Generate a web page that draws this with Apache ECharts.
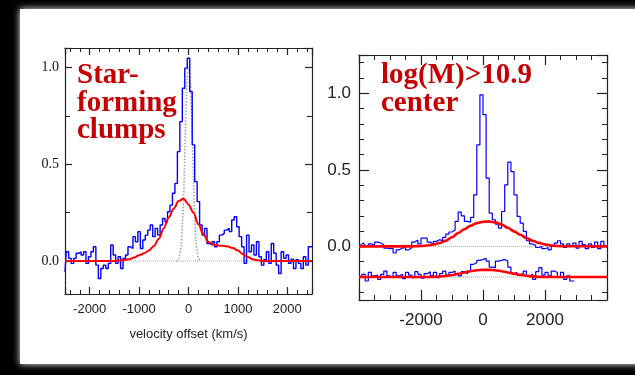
<!DOCTYPE html>
<html>
<head>
<meta charset="utf-8">
<script src="https://cdn.jsdelivr.net/npm/echarts@6/dist/echarts.min.js"></script>
<style>
html,body{margin:0;padding:0;background:#000;}
#c{width:635px;height:375px;}
</style>
</head>
<body>
<div id="c"></div>
<script>
// ---------- data ----------
const leftTitle = 'Star-\nforming\nclumps';
const rightTitle = 'log(M)>10.9\ncenter';
const leftXName = 'velocity offset (km/s)';

// left panel: binned spectrum (bin centres start at -2500, 50 km/s bins)
const leftBinStart = -2500, leftBinWidth = 50;
const leftFlux = [-0.055,0.048,0.014,-0.012,0.014,0.040,0.048,0.031,0.048,-0.012,
 0.022,0.048,0.074,-0.021,-0.090,-0.038,-0.021,-0.038,-0.012,0.083,
 0.031,-0.012,0.022,-0.038,0.014,0.031,0.074,0.065,0.126,0.100,
 0.152,0.065,0.109,0.134,0.160,0.186,0.126,0.169,0.134,0.186,
 0.220,0.203,0.255,0.289,0.350,0.401,0.565,0.720,0.892,0.996,
 1.047,0.875,0.600,0.410,0.307,0.186,0.134,0.169,0.091,0.083,
 0.100,0.074,0.100,0.134,0.143,0.160,0.169,0.152,0.212,0.229,
 0.177,0.126,0.074,-0.012,0.134,0.048,0.083,0.031,0.100,0.022,
 -0.021,0.007,0.048,-0.012,0.091,0.040,-0.021,-0.064,0.048,0.014,
 0.031,-0.012,0.010,-0.038,0.007,-0.012,-0.038,0.022,-0.021,0.074,0.074];

// left panel: broad model (red)
const leftRedV = [-2500,-1600,-1500,-1400,-1300,-1200,-1100,-1000,-900,-800,-700,-600,-500,-400,-300,-200,-100,0,100,200,300,400,500,600,700,800,900,1000,1100,1200,1300,1400,1500,1600,2500];
const leftRedY = [0,0,0.001,0.003,0.006,0.010,0.018,0.030,0.040,0.055,0.078,0.115,0.170,0.225,0.270,0.310,0.322,0.292,0.250,0.190,0.140,0.100,0.085,0.080,0.079,0.075,0.067,0.054,0.036,0.021,0.010,0.004,0.001,0,0];

// left panel: narrow component (grey dotted)
const leftNarrowV = [-250,-200,-150,-100,-75,-50,-25,0,25,50,75,100,125,150,200,250];
const leftNarrowY = [0,0.01,0.08,0.33,0.55,0.78,0.94,1.0,0.97,0.86,0.66,0.44,0.24,0.11,0.015,0];

// left zero level
const leftZeroV = [-2500,2500];
const leftZeroY = [0,0];

// right panel: upper spectrum (bin centres start at -3950, 100 km/s bins)
const rightBinStart = -3950, rightBinWidth = 100;
const rightUpperFlux = [0.011,0.022,0.0,0.016,0.007,0.028,0.022,0.011,-0.011,-0.015,
 -0.011,-0.043,-0.022,-0.011,-0.007,-0.022,-0.011,0.028,0.041,0.016,
 0.054,0.054,0.028,0.016,0.033,0.044,0.037,0.059,0.080,0.094,
 0.107,0.163,0.224,0.200,0.163,0.159,0.189,0.337,0.663,0.990,
 0.860,0.446,0.217,0.174,0.146,0.120,0.228,0.402,0.550,0.489,
 0.337,0.196,0.152,0.098,0.037,0.016,0.007,-0.007,0.0,-0.015,
 -0.007,-0.022,0.0,0.022,0.037,0.016,-0.007,0.016,0.0,0.022,
 -0.011,0.033,0.011,-0.015,0.016,-0.007,0.028,-0.015,0.033,0.007];
// right panel: lower (offset) spectrum
const rightLowerFlux = [-0.204,-0.182,-0.226,-0.170,-0.193,-0.187,-0.215,-0.182,-0.161,-0.193,
 -0.204,-0.170,-0.193,-0.182,-0.211,-0.170,-0.187,-0.204,-0.165,-0.182,
 -0.208,-0.178,-0.165,-0.193,-0.170,-0.204,-0.178,-0.161,-0.187,-0.170,
 -0.161,-0.178,-0.193,-0.165,-0.178,-0.161,-0.117,-0.107,-0.091,-0.085,
 -0.078,-0.096,-0.135,-0.139,-0.096,-0.091,-0.085,-0.096,-0.135,-0.178,
 -0.170,-0.187,-0.178,-0.161,-0.193,-0.182,-0.215,-0.165,-0.139,-0.187,
 -0.170,-0.193,-0.161,-0.170,-0.200,-0.170,-0.215,-0.193,-0.226,-0.226];

// right panel models (red)
const rightRedUpperV = [-4000,-2400,-2200,-2000,-1800,-1600,-1400,-1200,-1000,-800,-600,-400,-200,0,200,400,600,800,1000,1200,1400,1600,1800,2000,2200,2400,2600,4000];
const rightRedUpperY = [0,0,0.001,0.003,0.006,0.012,0.022,0.037,0.060,0.088,0.112,0.135,0.152,0.161,0.163,0.157,0.143,0.122,0.098,0.076,0.055,0.037,0.023,0.013,0.006,0.003,0.001,0];
const rightRedLowerV = [-4000,-1800,-1600,-1400,-1200,-1000,-800,-600,-400,-200,0,200,400,600,800,1000,1200,1400,1600,1800,2000,4000];
const rightRedLowerY = [-0.2,-0.2,-0.199,-0.197,-0.193,-0.187,-0.179,-0.170,-0.162,-0.156,-0.153,-0.153,-0.156,-0.162,-0.170,-0.178,-0.186,-0.192,-0.196,-0.199,-0.2,-0.2];

// right zero levels
const rightZeroV = [-4000,4000];
const rightZeroY = [0,0];
const rightOffsetY = [-0.2,-0.2];

// ---------- build ----------
const zip = (xs, ys) => xs.map((x, i) => [x, ys[i]]);
const binned = (start, w, ys) => ys.map((y, i) => [start + i * w, y]);

const AX = '#222';
const red = '#ff0000', blue = '#0000ff', grey = '#a8a8a8';
const SANS = 'Liberation Sans, Arial, sans-serif';
const SERIF = 'Liberation Serif, Times New Roman, serif';

function axisDef(grid, pos, opts) {
  return Object.assign({
    gridIndex: grid, type: 'value', position: pos,
    axisLine: { show: true, onZero: false, lineStyle: { color: AX, width: 1.2 } },
    splitLine: { show: false },
  }, opts);
}

const leftXCommon = {
  min: -2500, max: 2500, minInterval: 1000, maxInterval: 1000,
  axisTick: { show: true, inside: true, length: 7, lineStyle: { color: AX, width: 1.2 } },
  minorTick: { show: true, splitNumber: 5, length: 4, lineStyle: { color: AX, width: 1 } },
};
const leftYCommon = {
  min: -0.17, max: 1.10, minInterval: 0.5, maxInterval: 0.5,
  axisTick: { show: true, inside: true, length: 7, lineStyle: { color: AX, width: 1.2 } },
  minorTick: { show: true, splitNumber: 2, length: 5, lineStyle: { color: AX, width: 1 } },
};
const rightXCommon = {
  min: -4000, max: 4000, interval: 2000,
  axisTick: { show: true, inside: true, length: 10, lineStyle: { color: AX, width: 1.2 } },
  minorTick: { show: true, splitNumber: 4, length: 5, lineStyle: { color: AX, width: 1 } },
};
const rightYCommon = {
  min: -0.35, max: 1.25, minInterval: 0.5, maxInterval: 0.5,
  axisTick: { show: true, inside: true, length: 10, lineStyle: { color: AX, width: 1.2 } },
  minorTick: { show: true, splitNumber: 5, length: 5, lineStyle: { color: AX, width: 1 } },
};

const chart = echarts.init(document.getElementById('c'), null, { renderer: 'canvas' });
chart.setOption({
  animation: false,
  backgroundColor: '#000',
  graphic: [{
    type: 'rect', z: -100, silent: true,
    shape: { x: 20, y: 9, width: 640, height: 355 },
    style: { fill: '#fff', shadowBlur: 7, shadowColor: 'rgba(255,255,255,0.95)' }
  }],
  title: [
    { text: leftTitle, left: 77, top: 62, padding: 0,
      textStyle: { fontFamily: SERIF, fontWeight: 'bold', fontSize: 29, lineHeight: 27.5, color: '#c40000' } },
    { text: rightTitle, left: 381, top: 62, padding: 0,
      textStyle: { fontFamily: SERIF, fontWeight: 'bold', fontSize: 29, lineHeight: 28, color: '#c40000' } }
  ],
  grid: [
    { left: 65, top: 48, width: 247, height: 246 },
    { left: 359, top: 55, width: 248, height: 245 }
  ],
  xAxis: [
    axisDef(0, 'bottom', Object.assign({}, leftXCommon, {
      axisLabel: { show: true, showMinLabel: false, showMaxLabel: false, margin: 9,
        fontFamily: SANS, fontSize: 13, color: '#222', formatter: v => String(v) },
      name: leftXName, nameLocation: 'middle', nameGap: 34,
      nameTextStyle: { fontFamily: SANS, fontSize: 13, color: '#222' }
    })),
    axisDef(0, 'top', Object.assign({}, leftXCommon, { axisLabel: { show: false } })),
    axisDef(1, 'bottom', Object.assign({}, rightXCommon, {
      axisLabel: { show: true, showMinLabel: false, showMaxLabel: false, margin: 12,
        fontFamily: SANS, fontSize: 17, color: '#222', formatter: v => String(v) }
    })),
    axisDef(1, 'top', Object.assign({}, rightXCommon, { axisLabel: { show: false } }))
  ],
  yAxis: [
    axisDef(0, 'left', Object.assign({}, leftYCommon, {
      axisLabel: { show: true, showMinLabel: false, showMaxLabel: false, margin: 6,
        fontFamily: SERIF, fontSize: 14, color: '#111', formatter: v => v.toFixed(1) }
    })),
    axisDef(0, 'right', Object.assign({}, leftYCommon, { axisLabel: { show: false } })),
    axisDef(1, 'left', Object.assign({}, rightYCommon, {
      axisLabel: { show: true, showMinLabel: false, showMaxLabel: false, margin: 8,
        fontFamily: SANS, fontSize: 17, color: '#222', formatter: v => v.toFixed(1) }
    })),
    axisDef(1, 'right', Object.assign({}, rightYCommon, { axisLabel: { show: false } }))
  ],
  series: [
    // left panel
    { type: 'line', xAxisIndex: 0, yAxisIndex: 0, data: zip(leftZeroV, leftZeroY), symbol: 'none', z: 2,
      lineStyle: { color: grey, width: 1, type: 'dotted' } },
    { type: 'line', xAxisIndex: 0, yAxisIndex: 0, data: zip(leftNarrowV, leftNarrowY), symbol: 'none', smooth: 0.3, z: 2,
      lineStyle: { color: grey, width: 1.6, type: 'dotted' } },
    { type: 'line', xAxisIndex: 0, yAxisIndex: 0, data: binned(leftBinStart, leftBinWidth, leftFlux), symbol: 'none', step: 'middle', z: 3,
      lineStyle: { color: blue, width: 1.4 } },
    { type: 'line', xAxisIndex: 0, yAxisIndex: 0, data: zip(leftRedV, leftRedY), symbol: 'none', smooth: 0.35, smoothMonotone: 'x', z: 4,
      lineStyle: { color: red, width: 2 } },
    // right panel
    { type: 'line', xAxisIndex: 2, yAxisIndex: 2, data: zip(rightZeroV, rightZeroY), symbol: 'none', z: 2,
      lineStyle: { color: grey, width: 1, type: 'dotted' } },
    { type: 'line', xAxisIndex: 2, yAxisIndex: 2, data: zip(rightZeroV, rightOffsetY), symbol: 'none', z: 2,
      lineStyle: { color: grey, width: 1, type: 'dotted' } },
    { type: 'line', xAxisIndex: 2, yAxisIndex: 2, data: binned(rightBinStart, rightBinWidth, rightUpperFlux), symbol: 'none', step: 'middle', z: 3,
      lineStyle: { color: blue, width: 1.2 } },
    { type: 'line', xAxisIndex: 2, yAxisIndex: 2, data: binned(rightBinStart, rightBinWidth, rightLowerFlux), symbol: 'none', step: 'middle', z: 3,
      lineStyle: { color: blue, width: 1.2 } },
    { type: 'line', xAxisIndex: 2, yAxisIndex: 2, data: zip(rightRedUpperV, rightRedUpperY), symbol: 'none', smooth: 0.35, smoothMonotone: 'x', z: 4,
      lineStyle: { color: red, width: 2.6 } },
    { type: 'line', xAxisIndex: 2, yAxisIndex: 2, data: zip(rightRedLowerV, rightRedLowerY), symbol: 'none', smooth: 0.35, smoothMonotone: 'x', z: 4,
      lineStyle: { color: red, width: 2.6 } }
  ]
});
</script>
</body>
</html>
